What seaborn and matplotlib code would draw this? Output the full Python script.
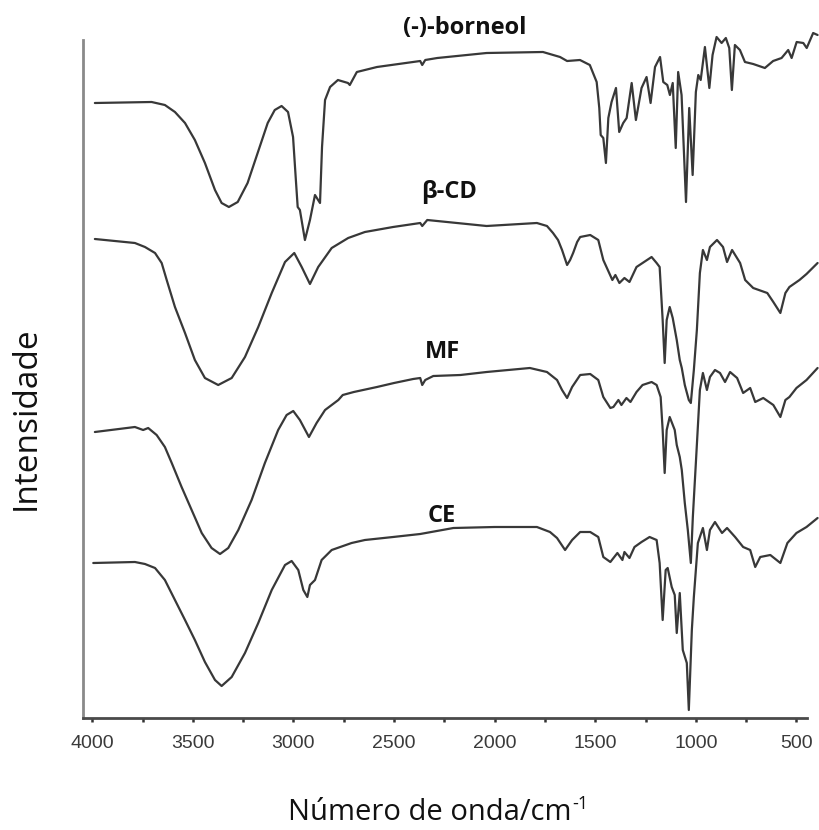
import numpy as np
import pandas as pd
import matplotlib
matplotlib.use("Agg")
import matplotlib.pyplot as plt
from matplotlib.ticker import MultipleLocator
import seaborn as sns

# ---------------- data (wavenumber in cm-1, intensity in arbitrary units, stacked) -------------
borneol_wn = [3987, 3705, 3639, 3589, 3539, 3490, 3440, 3390, 3357, 3321, 3277, 3228, 3178, 3128,
              3093, 3059, 3027, 3002, 2989, 2979, 2968, 2943, 2918, 2893, 2868, 2858, 2843, 2818,
              2779, 2729, 2720, 2685, 2585, 2370, 2360, 2345, 2285, 2040, 1760, 1675, 1640, 1576,
              1527, 1493, 1480, 1473, 1460, 1447, 1435, 1419, 1397, 1381, 1361, 1344, 1319, 1298,
              1270, 1245, 1225, 1203, 1178, 1162, 1142, 1129, 1115, 1100, 1088, 1071, 1049, 1033,
              1016, 1000, 988, 976, 955, 933, 917, 897, 872, 851, 834, 821, 806, 781, 756, 715,
              657, 616, 574, 541, 524, 499, 466, 449, 417, 395]
borneol_int = [615, 616, 613, 606, 595, 578, 555, 528, 515, 511, 516, 535, 565, 595,
               608, 612, 606, 581, 541, 511, 508, 478, 498, 523, 515, 571, 618, 631,
               638, 635, 633, 646, 651, 657, 653, 658, 660, 665, 666, 661, 657, 658,
               653, 636, 610, 583, 580, 555, 600, 616, 630, 586, 595, 600, 635, 598,
               630, 641, 615, 651, 661, 636, 633, 623, 635, 570, 646, 623, 516, 610,
               543, 626, 643, 638, 671, 630, 663, 681, 675, 680, 670, 628, 673, 668, 656, 654,
               650, 657, 660, 668, 660, 676, 675, 670, 685, 683]

bcd_wn = [3987, 3788, 3738, 3688, 3655, 3630, 3589, 3539, 3490, 3440, 3374, 3307, 3241, 3175,
          3108, 3042, 2996, 2959, 2918, 2877, 2810, 2728, 2645, 2505, 2370, 2360, 2335, 2040,
          1790, 1740, 1710, 1685, 1665, 1640, 1625, 1610, 1590, 1575, 1525, 1485, 1460, 1415,
          1400, 1380, 1355, 1330, 1295, 1265, 1220, 1195, 1180, 1165, 1155, 1145, 1130, 1115,
          1095, 1080, 1070, 1055, 1035, 1025, 1010, 995, 980, 965, 945, 930, 895, 865, 845,
          820, 780, 755, 715, 645, 615, 580, 555, 535, 485, 450, 395]
bcd_int = [479, 475, 471, 465, 455, 438, 411, 385, 358, 340, 333, 340, 361, 391,
           425, 456, 465, 451, 434, 451, 470, 480, 486, 491, 495, 492, 498, 492,
           495, 492, 485, 478, 468, 453, 458, 465, 476, 481, 483, 478, 458, 438,
           443, 435, 440, 436, 451, 455, 461, 455, 451, 398, 355, 398, 411, 400,
           378, 358, 350, 333, 318, 315, 348, 388, 445, 468, 458, 471, 478, 471, 456,
           468, 455, 438, 430, 425, 416, 405, 425, 431, 438, 444, 455]

mf_wn = [3987, 3788, 3747, 3722, 3680, 3639, 3605, 3556, 3506, 3456, 3407, 3365, 3324, 3274,
         3208, 3142, 3076, 3034, 3001, 2968, 2923, 2885, 2843, 2777, 2755, 2700, 2585, 2500,
         2405, 2370, 2360, 2345, 2305, 2170, 2040, 1825, 1740, 1690, 1665, 1640, 1615, 1575,
         1525, 1485, 1460, 1425, 1410, 1385, 1370, 1345, 1325, 1295, 1265, 1220, 1195, 1175,
         1165, 1155, 1145, 1130, 1105, 1095, 1080, 1070, 1055, 1040, 1025, 1015, 1000, 980,
         965, 945, 930, 905, 880, 855, 830, 795, 765, 730, 705, 665, 615, 580, 555, 535, 500,
         450, 395]
mf_int = [286, 291, 288, 290, 283, 271, 255, 231, 208, 185, 170, 164, 170, 188,
          218, 255, 288, 303, 307, 298, 281, 295, 308, 318, 323, 326, 331, 335,
          339, 340, 333, 338, 342, 343, 346, 350, 346, 338, 328, 320, 331, 343,
          344, 338, 321, 310, 311, 318, 313, 320, 316, 326, 333, 336, 333, 321,
          288, 245, 288, 301, 288, 273, 261, 248, 215, 188, 155, 201, 255, 328,
          345, 328, 341, 348, 345, 336, 346, 340, 325, 330, 316, 320, 313, 301, 318, 321, 330,
          338, 350]

ce_wn = [3995, 3788, 3738, 3688, 3639, 3589, 3539, 3490, 3440, 3390, 3357, 3307, 3241, 3175,
         3108, 3042, 3009, 2976, 2951, 2931, 2918, 2893, 2860, 2810, 2711, 2645, 2505, 2370,
         2205, 2000, 1790, 1725, 1690, 1650, 1615, 1575, 1525, 1485, 1460, 1425, 1390, 1365,
         1355, 1330, 1305, 1270, 1230, 1195, 1180, 1165, 1150, 1140, 1120, 1105, 1095, 1080,
         1065, 1045, 1035, 1020, 1010, 990, 965, 945, 930, 905, 870, 845, 805, 765, 730, 705,
         680, 630, 580, 545, 500, 450, 395]
ce_int = [155, 156, 154, 150, 138, 118, 98, 78, 56, 38, 32, 41, 65, 95,
          128, 153, 157, 148, 128, 121, 133, 138, 158, 168, 175, 178, 181, 184,
          190, 191, 191, 186, 180, 168, 178, 186, 186, 181, 161, 156, 165, 158,
          166, 160, 171, 176, 181, 178, 155, 98, 148, 150, 131, 123, 85, 125,
          68, 55, 8, 88, 121, 175, 190, 168, 188, 196, 185, 190, 181, 171, 168, 151,
          161, 163, 155, 175, 185, 191, 200]

sample_names = ["(-)-borneol", "\u03b2-CD", "MF", "CE"]
major_ticks = [4000, 3500, 3000, 2500, 2000, 1500, 1000, 500]

# ---------------- build table ----------------
frames = []
for name, wn, it in zip(sample_names,
                        [borneol_wn, bcd_wn, mf_wn, ce_wn],
                        [borneol_int, bcd_int, mf_int, ce_int]):
    frames.append(pd.DataFrame({"wn": wn, "I": it, "sample": name}))
df = pd.concat(frames, ignore_index=True)

sns.set_theme(style="white")
plt.rcParams["font.family"] = ["Open Sans", "DejaVu Sans"]

fig = plt.figure(figsize=(8.2, 8.3), dpi=100)
ax = fig.add_axes([83 / 820, (830 - 718) / 830, 1 - 83 / 820, 718 / 830])

line_color = "#383838"
for name in sample_names:
    sns.lineplot(data=df[df["sample"] == name], x="wn", y="I", ax=ax,
                 color=line_color, linewidth=1.6, estimator=None, sort=True,
                 legend=False)

ax.set_xlim(4046, 383)
ax.set_ylim(0, 718)

for s in ["top", "right"]:
    ax.spines[s].set_visible(False)
ax.spines["left"].set_color("#8a8a8a")
ax.spines["left"].set_linewidth(2.0)
ax.spines["left"].set_bounds(0, 678)
ax.spines["bottom"].set_color("#4a4a4a")
ax.spines["bottom"].set_linewidth(2.0)
ax.spines["bottom"].set_bounds(4046, 448)

ax.set_xticks(major_ticks)
ax.xaxis.set_minor_locator(MultipleLocator(250))
ax.tick_params(axis="x", which="both", direction="out", length=3, width=1.8,
               color="#333333", bottom=True)
ax.tick_params(axis="x", which="major", pad=9, labelsize=14, labelcolor="#3a3a3a")
for lbl in ax.get_xticklabels():
    lbl.set_family(["Liberation Sans", "DejaVu Sans"])
ax.set_yticks([])
ax.set_xlabel("")
ax.set_ylabel("")

# spectrum labels
label_pos = {"(-)-borneol": (2148, 690), "\u03b2-CD": (2227, 526),
             "MF": (2257, 366), "CE": (2262, 202)}
for name, (x, y) in label_pos.items():
    ax.text(x, y, name, ha="center", va="center", fontsize=17, fontweight="bold",
            color="#111111", family=["Open Sans", "DejaVu Sans"])

# x label with a plain "-1" superscript
xl = fig.text(288 / 820, 10 / 830, "N\u00famero de onda/cm", ha="left",
              va="baseline", fontsize=21, color="#111111")
fig.canvas.draw()
bb = xl.get_window_extent()
fig.text((bb.x1 + 1) / 820, 21 / 830, "-1", ha="left", va="baseline",
         fontsize=13, color="#111111")

fig.text(26 / 820, 1 - 418 / 830, "Intensidade", ha="center", va="center",
         rotation=90, fontsize=24, color="#111111")

fig.savefig("out.png", dpi=100, facecolor="white")
